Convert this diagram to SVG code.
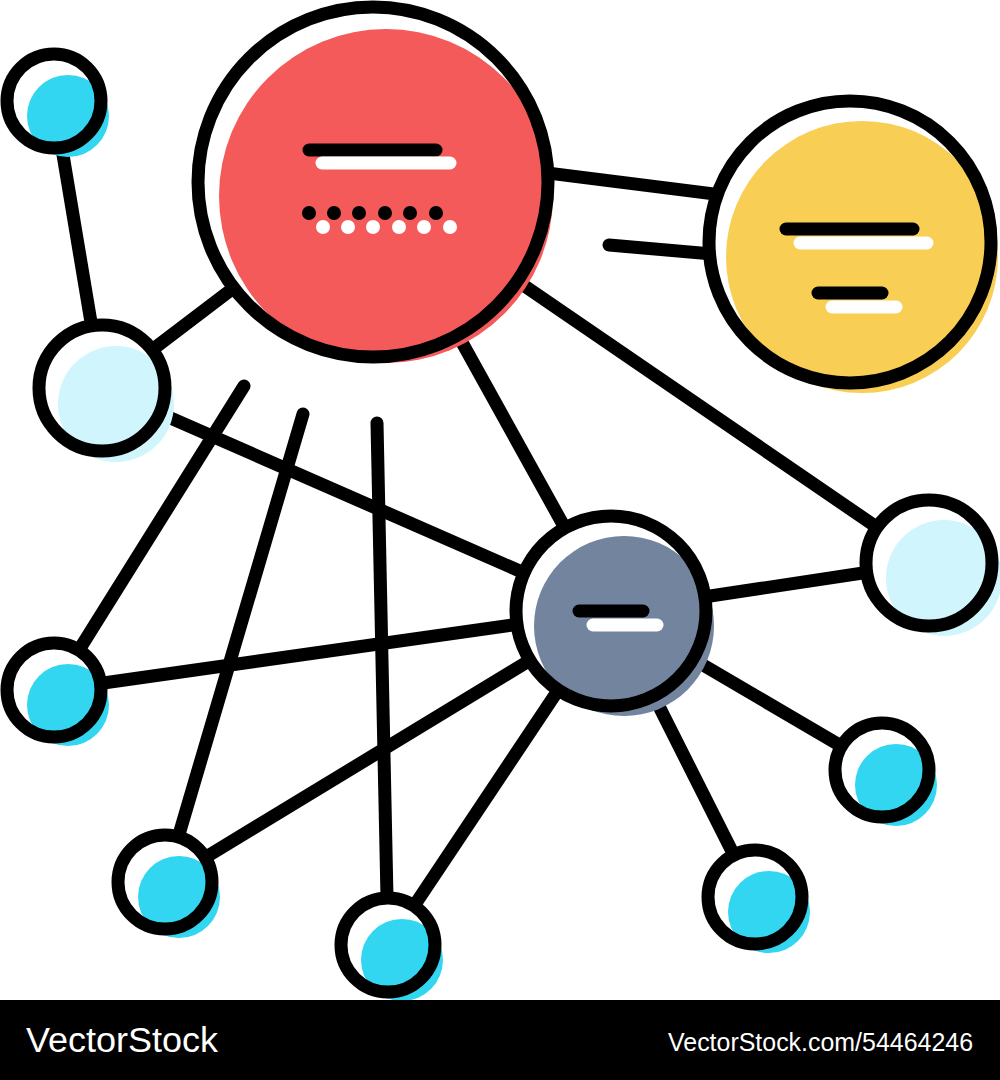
<svg xmlns="http://www.w3.org/2000/svg" width="1000" height="1080" viewBox="0 0 1000 1080">
<style>
.ln{stroke:#000;stroke-width:13;stroke-linecap:round;fill:none}
.ring{fill:none;stroke:#000;stroke-width:13}
.base{fill:#fff}
.bar{stroke-width:13;stroke-linecap:round}
.k{stroke:#000}
.w{stroke:#fff}
.cyan{fill:#33D6F1}
.pale{fill:#D0F5FC}
.ft{font-family:"Liberation Sans",Arial,sans-serif;fill:#fff}
</style>
<rect width="1000" height="1080" fill="#fff"/>
<g id="connectors">
<line class="ln" x1="54" y1="101" x2="102" y2="388"/>
<line class="ln" x1="102" y1="388" x2="373" y2="182"/>
<line class="ln" x1="102" y1="388" x2="611" y2="611"/>
<line class="ln" x1="373" y1="151" x2="850" y2="211"/>
<line class="ln" x1="609" y1="245" x2="780" y2="260"/>
<line class="ln" x1="373" y1="182" x2="929" y2="563"/>
<line class="ln" x1="373" y1="182" x2="611" y2="611"/>
<line class="ln" x1="244" y1="386" x2="54" y2="690"/>
<line class="ln" x1="303" y1="414" x2="165" y2="882"/>
<line class="ln" x1="377" y1="423" x2="388" y2="945"/>
<line class="ln" x1="611" y1="611" x2="54" y2="690"/>
<line class="ln" x1="611" y1="611" x2="165" y2="882"/>
<line class="ln" x1="611" y1="611" x2="388" y2="945"/>
<line class="ln" x1="611" y1="611" x2="755" y2="897"/>
<line class="ln" x1="611" y1="611" x2="882" y2="770"/>
<line class="ln" x1="611" y1="611" x2="929" y2="563"/>
</g>
<g id="node-red">
<circle class="base" cx="373" cy="182" r="175"/>
<circle cx="386" cy="196" r="167" fill="#F45A5A"/>
<circle class="ring" cx="373" cy="182" r="175"/>
<line class="bar k" x1="309" y1="150" x2="436" y2="150"/>
<line class="bar w" x1="322" y1="163" x2="450" y2="163"/>
<g fill="#000"><circle cx="309" cy="213" r="7"/><circle cx="334" cy="213" r="7"/><circle cx="359" cy="213" r="7"/><circle cx="385" cy="213" r="7"/><circle cx="410" cy="213" r="7"/><circle cx="436" cy="213" r="7"/></g>
<g fill="#fff"><circle cx="323" cy="227" r="7"/><circle cx="348" cy="227" r="7"/><circle cx="373" cy="227" r="7"/><circle cx="399" cy="227" r="7"/><circle cx="424" cy="227" r="7"/><circle cx="450" cy="227" r="7"/></g>
</g>
<g id="node-yellow">
<circle class="base" cx="850" cy="242" r="141"/>
<circle cx="862" cy="257" r="136" fill="#F8CE55"/>
<circle class="ring" cx="850" cy="242" r="141"/>
<line class="bar k" x1="786" y1="229" x2="913" y2="229"/>
<line class="bar w" x1="800" y1="243" x2="927" y2="243"/>
<line class="bar k" x1="818" y1="293" x2="882" y2="293"/>
<line class="bar w" x1="832" y1="307" x2="896" y2="307"/>
</g>
<g id="node-gray">
<circle class="base" cx="611" cy="611" r="95"/>
<circle cx="624" cy="626" r="90" fill="#72849E"/>
<circle class="ring" cx="611" cy="611" r="95"/>
<line class="bar k" x1="579" y1="611" x2="643" y2="611"/>
<line class="bar w" x1="593" y1="625" x2="657" y2="625"/>
</g>
<g id="node-pale-left">
<circle class="base" cx="102" cy="388" r="63"/>
<circle class="pale" cx="116" cy="404" r="58"/>
<circle class="ring" cx="102" cy="388" r="63"/>
</g>
<g id="node-pale-right">
<circle class="base" cx="929" cy="563" r="63"/>
<circle class="pale" cx="944" cy="578" r="58"/>
<circle class="ring" cx="929" cy="563" r="63"/>
</g>
<g id="node-c1">
<circle class="base" cx="54" cy="101" r="47"/>
<circle class="cyan" cx="68" cy="116" r="41"/>
<circle class="ring" cx="54" cy="101" r="47"/>
</g>
<g id="node-c2">
<circle class="base" cx="54" cy="690" r="47"/>
<circle class="cyan" cx="68" cy="705" r="41"/>
<circle class="ring" cx="54" cy="690" r="47"/>
</g>
<g id="node-c3">
<circle class="base" cx="165" cy="882" r="47"/>
<circle class="cyan" cx="179" cy="897" r="41"/>
<circle class="ring" cx="165" cy="882" r="47"/>
</g>
<g id="node-c4">
<circle class="base" cx="388" cy="945" r="47"/>
<circle class="cyan" cx="402" cy="960" r="41"/>
<circle class="ring" cx="388" cy="945" r="47"/>
</g>
<g id="node-c5">
<circle class="base" cx="755" cy="897" r="47"/>
<circle class="cyan" cx="769" cy="912" r="41"/>
<circle class="ring" cx="755" cy="897" r="47"/>
</g>
<g id="node-c6">
<circle class="base" cx="882" cy="770" r="47"/>
<circle class="cyan" cx="896" cy="785" r="41"/>
<circle class="ring" cx="882" cy="770" r="47"/>
</g>
<g id="footer">
<rect x="0" y="1000" width="1000" height="80" fill="#000"/>
<text class="ft" x="26" y="1052" font-size="35" textLength="192" lengthAdjust="spacingAndGlyphs">VectorStock</text>
<text class="ft" x="668" y="1051" font-size="25" textLength="305" lengthAdjust="spacingAndGlyphs">VectorStock.com/54464246</text>
</g>
</svg>
